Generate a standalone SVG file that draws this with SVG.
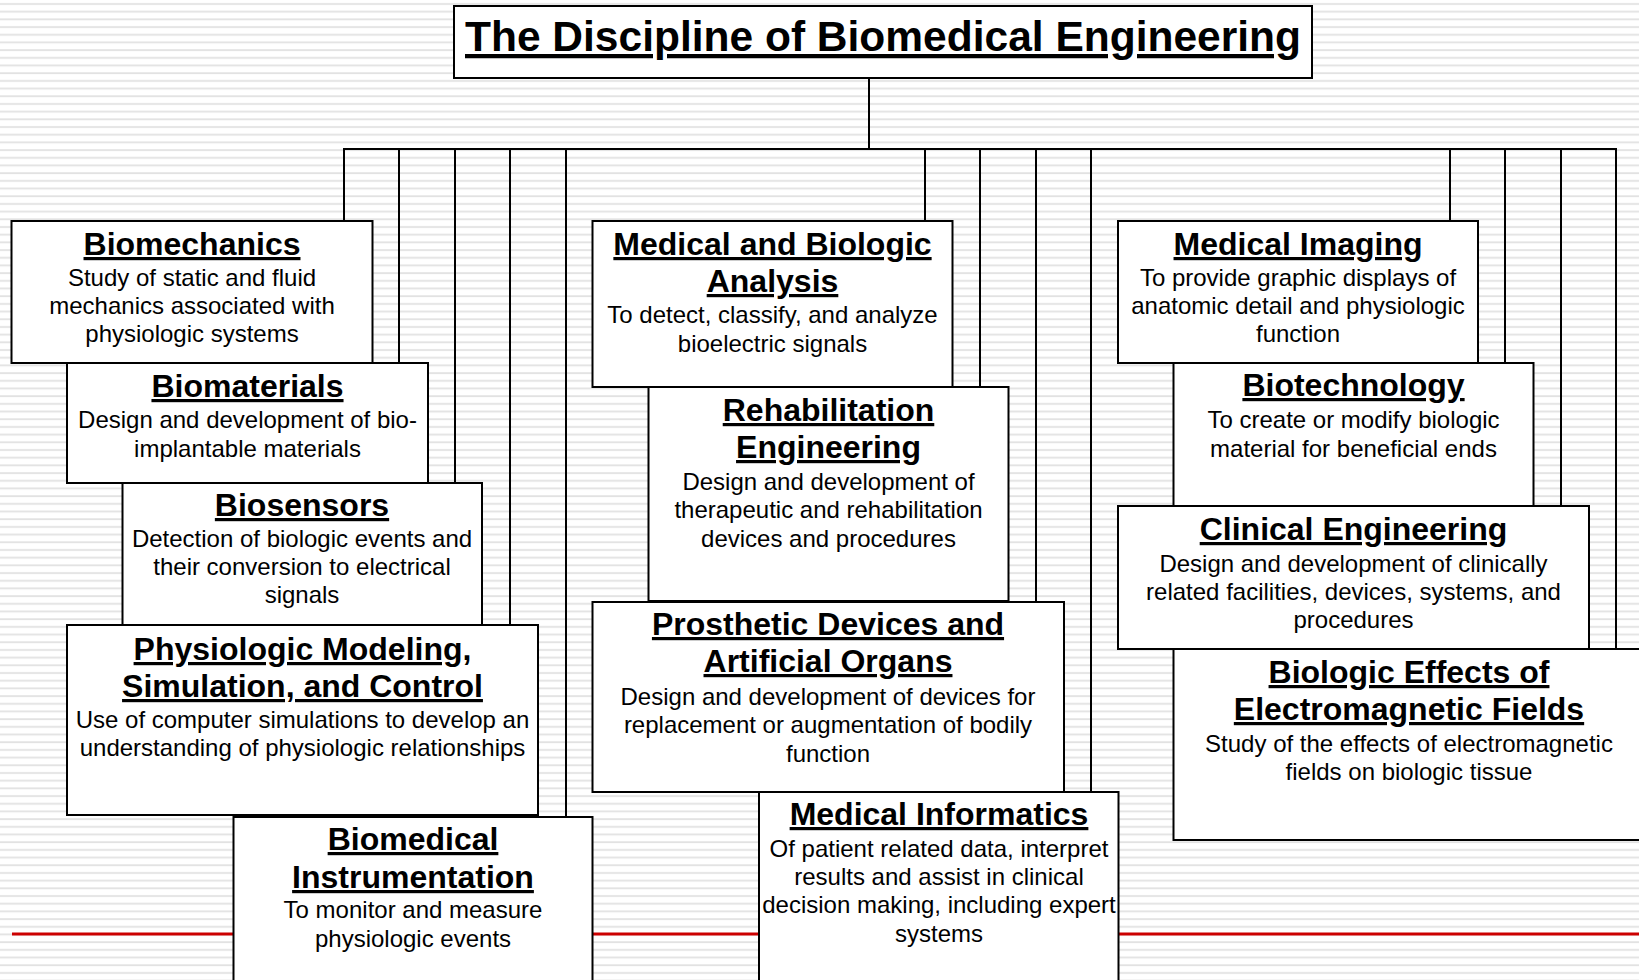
<svg xmlns="http://www.w3.org/2000/svg" width="1639" height="980" viewBox="0 0 1639 980">
<defs>
<pattern id="stripes" patternUnits="userSpaceOnUse" x="0" y="0" width="20" height="7.69">
<rect x="0" y="0" width="20" height="7.69" fill="#ffffff"/>
<rect x="0" y="3.1" width="20" height="1.8" fill="#e2e2e2"/>
</pattern>
</defs>
<style>
.box{fill:#ffffff;stroke:#000000;stroke-width:2}
.conn{fill:none;stroke:#000000;stroke-width:2}
.h{font-family:"Liberation Sans",Arial,sans-serif;font-weight:bold;font-size:32px;text-anchor:middle;text-decoration:underline;fill:#000}
.b{font-family:"Liberation Sans",Arial,sans-serif;font-size:24px;text-anchor:middle;fill:#000}
.t{font-family:"Liberation Sans",Arial,sans-serif;font-weight:bold;font-size:42.5px;text-anchor:middle;text-decoration:underline;fill:#000}
</style>
<rect x="0" y="0" width="1639" height="980" fill="url(#stripes)"/>
<line x1="12" y1="934" x2="1639" y2="934" stroke="#cc0000" stroke-width="3"/>

<g id="connectors" class="conn">
<line x1="869" y1="78" x2="869" y2="149"/>
<line x1="343" y1="149" x2="1617" y2="149"/>
<line x1="344" y1="149" x2="344" y2="221"/>
<line x1="399" y1="149" x2="399" y2="363"/>
<line x1="455" y1="149" x2="455" y2="483"/>
<line x1="510" y1="149" x2="510" y2="625"/>
<line x1="566" y1="149" x2="566" y2="817"/>
<line x1="925" y1="149" x2="925" y2="221"/>
<line x1="980" y1="149" x2="980" y2="387"/>
<line x1="1036" y1="149" x2="1036" y2="602"/>
<line x1="1091" y1="149" x2="1091" y2="792"/>
<line x1="1450" y1="149" x2="1450" y2="221"/>
<line x1="1505" y1="149" x2="1505" y2="363"/>
<line x1="1561" y1="149" x2="1561" y2="506"/>
<line x1="1616" y1="149" x2="1616" y2="649"/>
</g>

<g id="title">
<rect class="box" x="454" y="6" width="858" height="72" stroke-width="2.5"/>
<text class="t" x="883" y="51">The Discipline of Biomedical Engineering</text>
</g>

<g id="biomechanics">
<rect class="box" x="11.5" y="221" width="361" height="142"/>
<text class="h" x="192" y="255">Biomechanics</text>
<text class="b" x="192" y="286">Study of static and fluid</text>
<text class="b" x="192" y="314">mechanics associated with</text>
<text class="b" x="192" y="342">physiologic systems</text>
</g>

<g id="biomaterials">
<rect class="box" x="67" y="363" width="361" height="120"/>
<text class="h" x="247.5" y="397">Biomaterials</text>
<text class="b" x="247.5" y="428">Design and development of bio-</text>
<text class="b" x="247.5" y="457">implantable materials</text>
</g>

<g id="biosensors">
<rect class="box" x="122.5" y="483" width="359.5" height="142"/>
<text class="h" x="302" y="516">Biosensors</text>
<text class="b" x="302" y="547">Detection of biologic events and</text>
<text class="b" x="302" y="575">their conversion to electrical</text>
<text class="b" x="302" y="603">signals</text>
</g>

<g id="physiologic-modeling">
<rect class="box" x="67" y="625" width="471" height="190"/>
<text class="h" x="302.5" y="660">Physiologic Modeling,</text>
<text class="h" x="302.5" y="697">Simulation, and Control</text>
<text class="b" x="302.5" y="728">Use of computer simulations to develop an</text>
<text class="b" x="302.5" y="756">understanding of physiologic relationships</text>
</g>

<g id="biomedical-instrumentation">
<rect class="box" x="233.5" y="817" width="359" height="200"/>
<text class="h" x="413" y="850">Biomedical</text>
<text class="h" x="413" y="888">Instrumentation</text>
<text class="b" x="413" y="918">To monitor and measure</text>
<text class="b" x="413" y="947">physiologic events</text>
</g>

<g id="medical-biologic-analysis">
<rect class="box" x="592.5" y="221" width="360" height="166"/>
<text class="h" x="772.5" y="255">Medical and Biologic</text>
<text class="h" x="772.5" y="292">Analysis</text>
<text class="b" x="772.5" y="323">To detect, classify, and analyze</text>
<text class="b" x="772.5" y="352">bioelectric signals</text>
</g>

<g id="rehabilitation-engineering">
<rect class="box" x="648.5" y="387" width="360" height="214"/>
<text class="h" x="828.5" y="421">Rehabilitation</text>
<text class="h" x="828.5" y="458">Engineering</text>
<text class="b" x="828.5" y="490">Design and development of</text>
<text class="b" x="828.5" y="518">therapeutic and rehabilitation</text>
<text class="b" x="828.5" y="547">devices and procedures</text>
</g>

<g id="prosthetic-devices">
<rect class="box" x="592.5" y="602" width="471.5" height="190"/>
<text class="h" x="828" y="635">Prosthetic Devices and</text>
<text class="h" x="828" y="672">Artificial Organs</text>
<text class="b" x="828" y="705">Design and development of devices for</text>
<text class="b" x="828" y="733">replacement or augmentation of bodily</text>
<text class="b" x="828" y="762">function</text>
</g>

<g id="medical-informatics">
<rect class="box" x="759" y="792" width="359.5" height="200"/>
<text class="h" x="939" y="825">Medical Informatics</text>
<text class="b" x="939" y="857">Of patient related data, interpret</text>
<text class="b" x="939" y="885">results and assist in clinical</text>
<text class="b" x="939" y="913">decision making, including expert</text>
<text class="b" x="939" y="942">systems</text>
</g>

<g id="medical-imaging">
<rect class="box" x="1118" y="221" width="360" height="142"/>
<text class="h" x="1298" y="255">Medical Imaging</text>
<text class="b" x="1298" y="286">To provide graphic displays of</text>
<text class="b" x="1298" y="314">anatomic detail and physiologic</text>
<text class="b" x="1298" y="342">function</text>
</g>

<g id="biotechnology">
<rect class="box" x="1173.5" y="363" width="360" height="143"/>
<text class="h" x="1353.5" y="396">Biotechnology</text>
<text class="b" x="1353.5" y="428">To create or modify biologic</text>
<text class="b" x="1353.5" y="457">material for beneficial ends</text>
</g>

<g id="clinical-engineering">
<rect class="box" x="1118" y="506" width="471" height="143"/>
<text class="h" x="1353.5" y="540">Clinical Engineering</text>
<text class="b" x="1353.5" y="572">Design and development of clinically</text>
<text class="b" x="1353.5" y="600">related facilities, devices, systems, and</text>
<text class="b" x="1353.5" y="628">procedures</text>
</g>

<g id="biologic-effects">
<rect class="box" x="1173.5" y="649" width="471" height="191"/>
<text class="h" x="1409" y="683">Biologic Effects of</text>
<text class="h" x="1409" y="720">Electromagnetic Fields</text>
<text class="b" x="1409" y="752">Study of the effects of electromagnetic</text>
<text class="b" x="1409" y="780">fields on biologic tissue</text>
</g>
</svg>
